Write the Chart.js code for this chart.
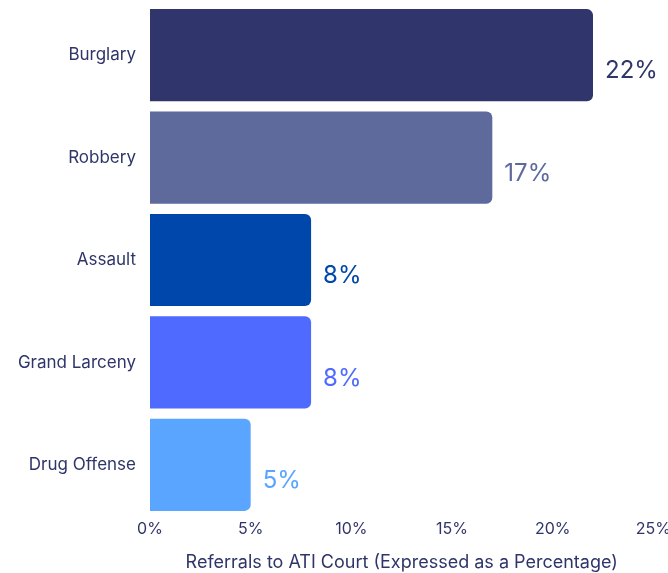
<!DOCTYPE html>
<html>
<head>
<meta charset="utf-8">
<script src="https://cdn.jsdelivr.net/npm/chart.js@4.4.0/dist/chart.umd.min.js"></script>
<style>
  body { margin: 0; background: #fff; }
  #wrap { width: 668px; height: 573px; }
</style>
</head>
<body>
<div id="wrap"><canvas id="atiChart"></canvas></div>
<script>
// referrals by offence type
var offenses = ["Burglary", "Robbery", "Assault", "Grand Larceny", "Drug Offense"];
var percents = [22, 17, 8, 8, 5];
var barColors = ["#30366b", "#5e699c", "#0047ab", "#4f6bff", "#5aa5ff"];
var xTicks = [0, 5, 10, 15, 20, 25];

var textColor = "#2f3569";

// draws "22%" etc to the right of each bar
var valueLabels = {
    id: "valueLabels",
    afterDatasetsDraw: function(chart) {
        var ctx = chart.ctx;
        var meta = chart.getDatasetMeta(0);
        ctx.save();
        ctx.font = "24px Inter";
        ctx.textAlign = "left";
        ctx.textBaseline = "middle";
        meta.data.forEach(function(bar, i) {
            ctx.fillStyle = barColors[i];
            ctx.fillText(percents[i] + "%", bar.x + 12, bar.y + 16);
        });
        ctx.restore();
    }
};

new Chart("atiChart", {
    type: "bar",
    data: {
        labels: offenses,
        datasets: [{
            data: percents,
            backgroundColor: barColors,
            borderRadius: 6,
            borderSkipped: "start",
            barPercentage: 0.9,
            categoryPercentage: 1.0
        }]
    },
    options: {
        indexAxis: "y",
        responsive: true,
        maintainAspectRatio: false,
        animation: false,
        layout: { padding: { top: 4, right: 0, left: 0, bottom: 0 } },
        plugins: {
            legend: { display: false },
            tooltip: { enabled: false }
        },
        scales: {
            x: {
                min: 0,
                max: 25,
                afterBuildTicks: function(axis) {
                    axis.ticks = xTicks.map(function(v) { return { value: v }; });
                },
                grid: { display: false, drawTicks: true, tickLength: 7 },
                border: { display: false },
                ticks: {
                    color: textColor,
                    font: { family: "Inter", size: 16 },
                    padding: -3,
                    callback: function(v) { return v + "%"; }
                },
                title: {
                    display: true,
                    text: "Referrals to ATI Court (Expressed as a Percentage)",
                    color: textColor,
                    font: { family: "Inter", size: 18 },
                    padding: { top: 5, bottom: 0 }
                },
                afterFit: function(axis) { axis.height = 57; }
            },
            y: {
                grid: { display: false, drawTicks: true, tickLength: 14 },
                border: { display: false },
                ticks: {
                    color: textColor,
                    font: { family: "Inter", size: 17, lineHeight: 0.4 },
                    padding: 0
                },
                afterFit: function(axis) { axis.width = 150; }
            }
        }
    },
    plugins: [valueLabels]
});
</script>
</body>
</html>
